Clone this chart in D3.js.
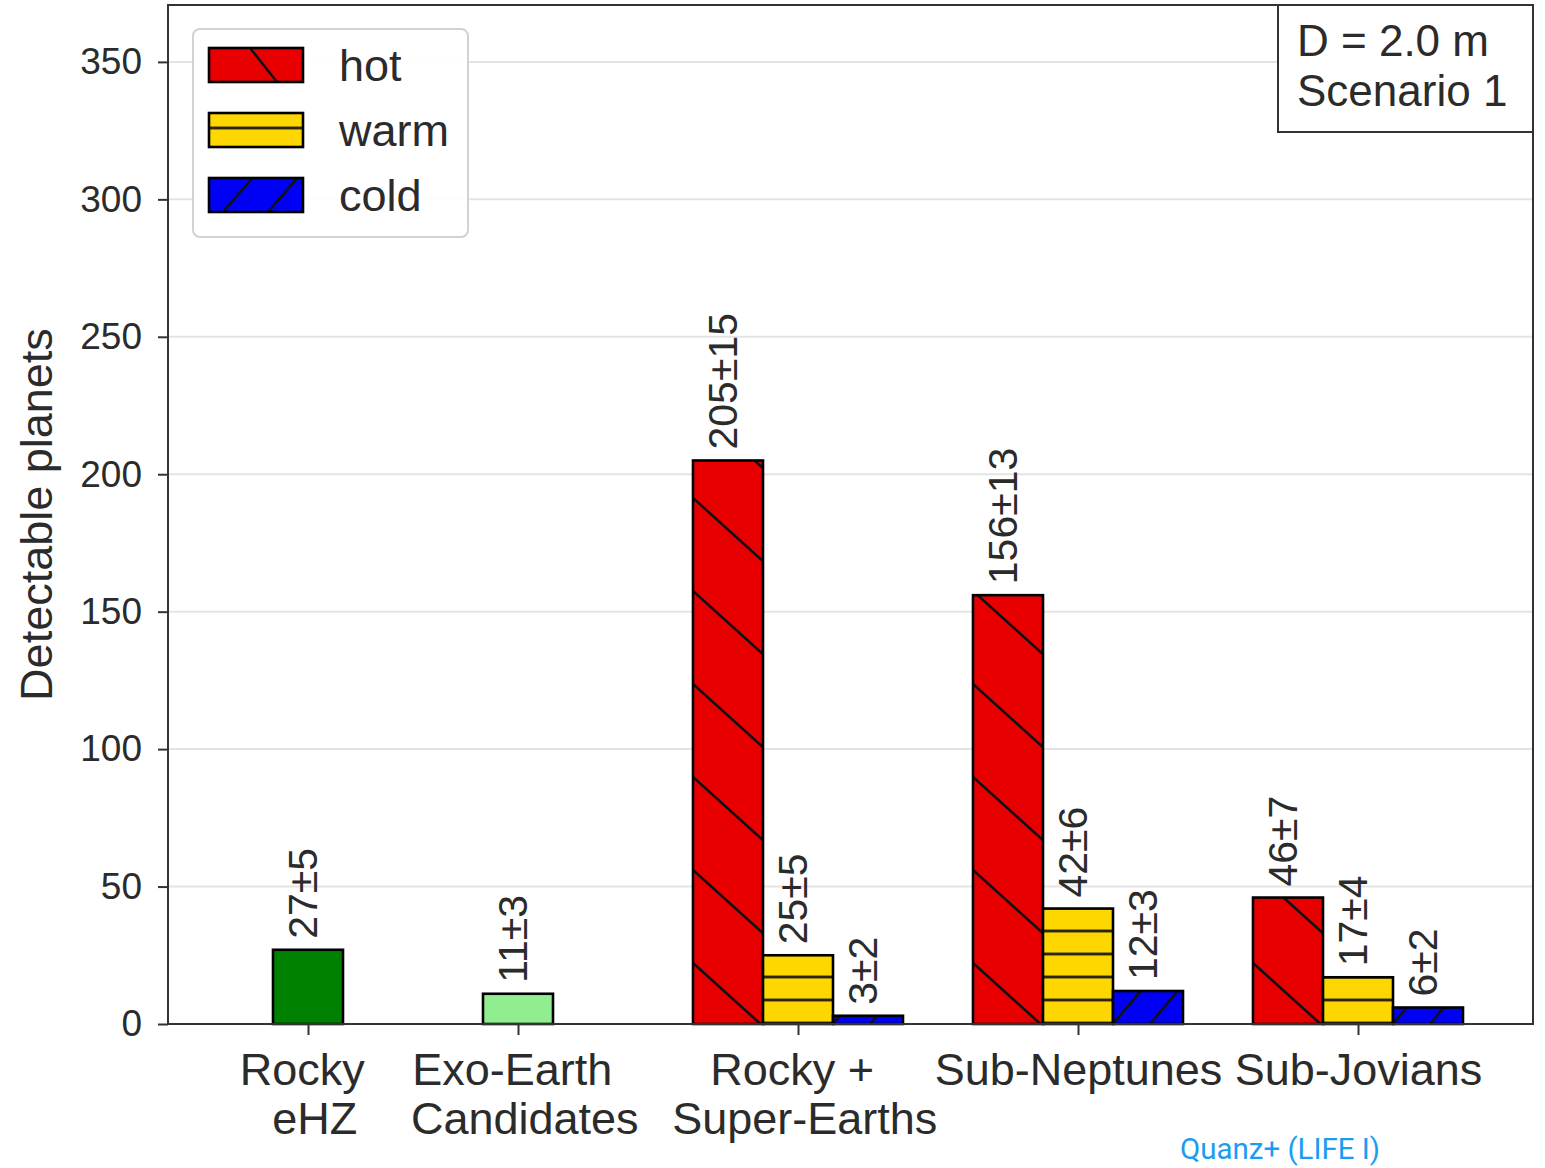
<!DOCTYPE html>
<html>
<head>
<meta charset="utf-8">
<script src="https://cdn.jsdelivr.net/npm/d3@7"></script>
<style>
  body { margin: 0; background: #fff; }
  svg { display: block; }
  text { font-family: "Liberation Sans", Arial, sans-serif; fill: #2b2b2b; }
</style>
</head>
<body>
<svg id="chart" width="1545" height="1168"></svg>
<script>
// ---- data ----
const categoryLabels = [["Rocky ", " eHZ"], ["Exo-Earth ", " Candidates"], ["Rocky + ", " Super-Earths"], ["Sub-Neptunes"], ["Sub-Jovians"]];
const categoryPos = [0, 0.75, 1.75, 2.75, 3.75];

const singleValues = [27, 11];          // Rocky eHZ, Exo-Earth Candidates
const singleErrors = [5, 3];
const singleColors = ["#008000", "#90ee90"];

const groupIndex = [2, 3, 4];           // Rocky + Super-Earths, Sub-Neptunes, Sub-Jovians
const hotValues = [205, 156, 46];
const hotErrors = [15, 13, 7];
const warmValues = [25, 42, 17];
const warmErrors = [5, 6, 4];
const coldValues = [3, 12, 6];
const coldErrors = [2, 3, 2];

const seriesNames = ["hot", "warm", "cold"];
const seriesColors = ["#e80000", "#ffd700", "#0000f5"];

const yTicks = [0, 50, 100, 150, 200, 250, 300, 350];

// ---- layout ----
const svg = d3.select("#chart");
const plot = { left: 168, right: 1533, top: 5, bottom: 1024 };
const barW = 0.25;

const x = d3.scaleLinear().domain([-0.5, 4.375]).range([plot.left, plot.right]);
const y = d3.scaleLinear().domain([0, 370.7]).range([plot.bottom, plot.top]);

const defs = svg.append("defs");
const hatchStroke = "#111";
const hatchWidth = 2.6;

// Hatch patterns anchored at a given point so each bar gets its own phase.
function backHatch(id, ax, ay, w, h) {      // "\" lines, passing through (ax, ay)
  const p = defs.append("pattern").attr("id", id).attr("patternUnits", "userSpaceOnUse")
    .attr("x", ax).attr("y", ay).attr("width", w).attr("height", h);
  [-1, 0, 1].forEach(k => p.append("line")
    .attr("x1", 0).attr("y1", k * h).attr("x2", w).attr("y2", (k + 1) * h)
    .attr("stroke", hatchStroke).attr("stroke-width", hatchWidth));
  return `url(#${id})`;
}
function fwdHatch(id, ax, ay, w, h) {       // "/" lines, passing through (ax, ay)
  const p = defs.append("pattern").attr("id", id).attr("patternUnits", "userSpaceOnUse")
    .attr("x", ax).attr("y", ay).attr("width", w).attr("height", h);
  [0, 1, 2].forEach(k => p.append("line")
    .attr("x1", 0).attr("y1", k * h).attr("x2", w).attr("y2", (k - 1) * h)
    .attr("stroke", hatchStroke).attr("stroke-width", hatchWidth));
  return `url(#${id})`;
}
function horizHatch(id, ay, h) {            // "-" lines, one at ay, repeating every h
  const p = defs.append("pattern").attr("id", id).attr("patternUnits", "userSpaceOnUse")
    .attr("x", 0).attr("y", ay - h / 2).attr("width", 20).attr("height", h);
  p.append("line").attr("x1", -1).attr("y1", h / 2).attr("x2", 21).attr("y2", h / 2)
    .attr("stroke", hatchStroke).attr("stroke-width", hatchWidth);
  return `url(#${id})`;
}

// ---- grid ----
svg.append("g").selectAll("line").data(yTicks).join("line")
  .attr("x1", plot.left).attr("x2", plot.right)
  .attr("y1", d => y(d)).attr("y2", d => y(d))
  .attr("stroke", "#e4e4e4").attr("stroke-width", 2);

// ---- bars ----
const bars = [];
singleValues.forEach((v, i) => bars.push({ pos: categoryPos[i], value: v, err: singleErrors[i], color: singleColors[i], kind: null }));
groupIndex.forEach((ci, j) => {
  const c = categoryPos[ci];
  bars.push({ pos: c - barW, value: hotValues[j], err: hotErrors[j], color: seriesColors[0], kind: "hot" });
  bars.push({ pos: c, value: warmValues[j], err: warmErrors[j], color: seriesColors[1], kind: "warm" });
  bars.push({ pos: c + barW, value: coldValues[j], err: coldErrors[j], color: seriesColors[2], kind: "cold" });
});

const gBars = svg.append("g");
bars.forEach((b, i) => {
  const x0 = x(b.pos - barW / 2), x1 = x(b.pos + barW / 2);
  const y0 = y(b.value), yb = y(0);
  gBars.append("rect").attr("x", x0).attr("y", y0).attr("width", x1 - x0).attr("height", yb - y0)
    .attr("fill", b.color);
  let fill = "none";
  if (b.kind === "hot") fill = backHatch("h" + i, x0, yb - 61, 103, 93);
  if (b.kind === "warm") fill = horizHatch("h" + i, yb - 24, 23);
  if (b.kind === "cold") fill = fwdHatch("h" + i, x0, yb, 37, 44);
  gBars.append("rect").attr("x", x0).attr("y", y0).attr("width", x1 - x0).attr("height", yb - y0)
    .attr("fill", fill).attr("stroke", "#000").attr("stroke-width", 2.6);
  // value label
  const cx = x(b.pos);
  gBars.append("text")
    .attr("transform", `translate(${cx + 9},${y0 - 11}) rotate(-90)`)
    .attr("text-anchor", "start")
    .attr("font-size", 41)
    .text(`${b.value}\u00b1${b.err}`);
});

// ---- frame ----
svg.append("rect").attr("x", plot.left).attr("y", plot.top)
  .attr("width", plot.right - plot.left).attr("height", plot.bottom - plot.top)
  .attr("fill", "none").attr("stroke", "#333").attr("stroke-width", 2);

// ---- y axis ----
const yAxis = svg.append("g").attr("transform", `translate(${plot.left},0)`)
  .call(d3.axisLeft(y).tickValues(yTicks).tickSize(10).tickPadding(16).tickFormat(d3.format("d")));
yAxis.select(".domain").remove();
yAxis.selectAll(".tick line").attr("stroke", "#333").attr("stroke-width", 2);
yAxis.selectAll(".tick text").attr("font-size", 37).attr("fill", "#2b2b2b")
  .style("font-family", '"Liberation Sans", Arial, sans-serif');

svg.append("text")
  .attr("transform", `translate(52,${(plot.top + plot.bottom) / 2}) rotate(-90)`)
  .attr("text-anchor", "middle").attr("font-size", 45)
  .text("Detectable planets");

// ---- x axis ----
const xAxis = svg.append("g").attr("transform", `translate(0,${plot.bottom})`)
  .call(d3.axisBottom(x).tickValues(categoryPos).tickSize(11).tickFormat(""));
xAxis.select(".domain").remove();
xAxis.selectAll(".tick line").attr("stroke", "#333").attr("stroke-width", 2);
xAxis.selectAll(".tick").each(function (d, i) {
  const t = d3.select(this).append("text")
    .attr("text-anchor", "middle").attr("font-size", 45)
    .style("white-space", "pre").attr("fill", "#2b2b2b")
    .style("font-family", '"Liberation Sans", Arial, sans-serif');
  categoryLabels[i].forEach((line, k) => {
    t.append("tspan").attr("x", 0).attr("y", 61 + k * 49).text(line);
  });
});

// ---- legend ----
const lg = svg.append("g");
lg.append("rect").attr("x", 193).attr("y", 29).attr("width", 275).attr("height", 208)
  .attr("rx", 7).attr("fill", "#fff").attr("fill-opacity", 0.9)
  .attr("stroke", "#d2d2d2").attr("stroke-width", 2);
const legendRows = [48, 113, 178];
const legendFills = [
  backHatch("lg0", 250, 48, 100, 126),
  horizHatch("lg1", 128, 23),
  fwdHatch("lg2", 223, 212, 45, 52)
];
seriesNames.forEach((name, i) => {
  const ty = legendRows[i];
  lg.append("rect").attr("x", 209).attr("y", ty).attr("width", 94).attr("height", 34)
    .attr("fill", seriesColors[i]);
  lg.append("rect").attr("x", 209).attr("y", ty).attr("width", 94).attr("height", 34)
    .attr("fill", legendFills[i]).attr("stroke", "#000").attr("stroke-width", 2.6);
  lg.append("text").attr("x", 339).attr("y", ty + 33).attr("font-size", 45).text(name);
});

// ---- annotation box ----
const ab = svg.append("g");
ab.append("rect").attr("x", 1278).attr("y", plot.top).attr("width", plot.right - 1278).attr("height", 127)
  .attr("fill", "#fff").attr("stroke", "#333").attr("stroke-width", 2);
ab.append("text").attr("x", 1297).attr("y", 56).attr("font-size", 44).text("D = 2.0 m");
ab.append("text").attr("x", 1297).attr("y", 106).attr("font-size", 44).text("Scenario 1");

// ---- credit ----
svg.append("text").attr("x", 1180).attr("y", 1159)
  .attr("font-size", 29).style("font-family", "Roboto, sans-serif").style("fill", "#1a9cf0")
  .attr("textLength", 200).attr("lengthAdjust", "spacingAndGlyphs")
  .text("Quanz+ (LIFE I)");
</script>
</body>
</html>
